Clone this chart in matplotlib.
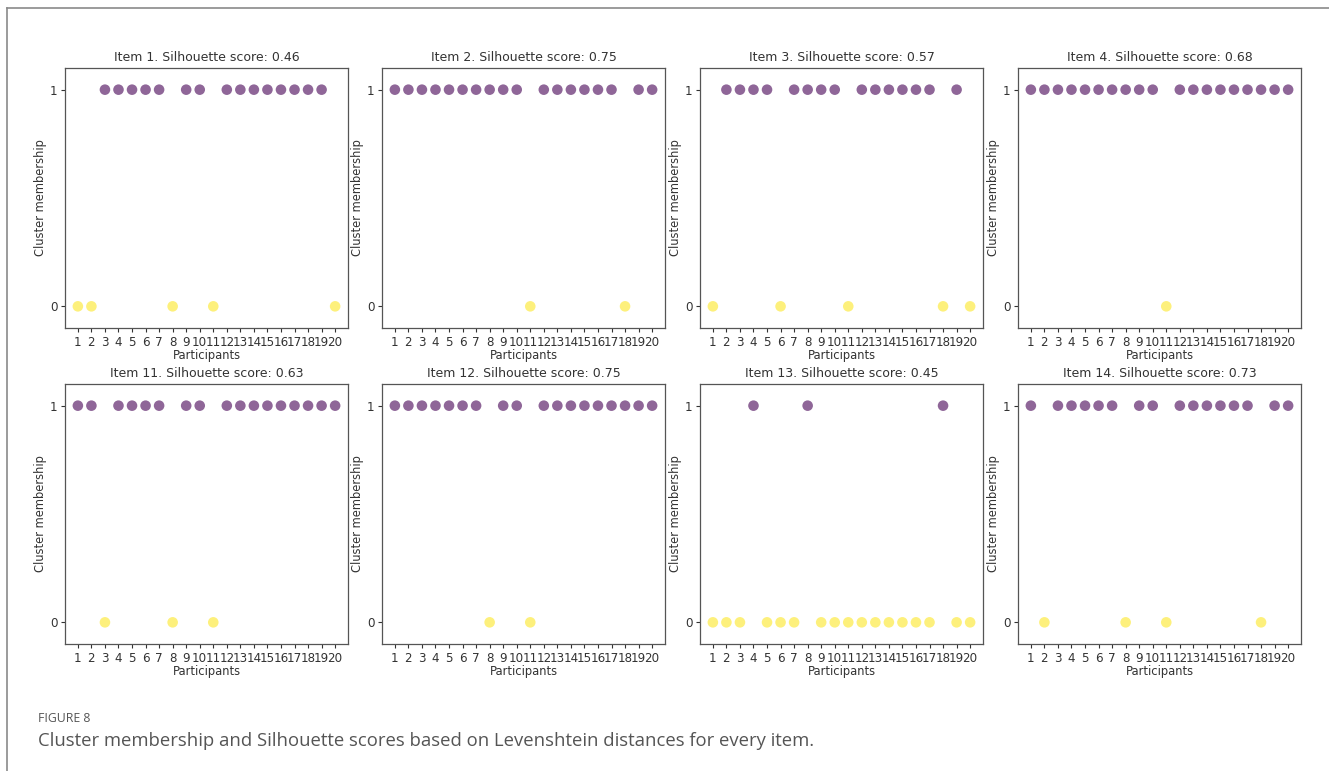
import matplotlib
matplotlib.use('Agg')
import matplotlib.pyplot as plt
from matplotlib.colors import ListedColormap
from matplotlib.lines import Line2D

# cluster label per participant (1..20) for each item
participants = list(range(1, 21))
items = [1, 2, 3, 4, 11, 12, 13, 14]
scores = [0.46, 0.75, 0.57, 0.68, 0.63, 0.75, 0.45, 0.73]

item1 = [0, 0, 1, 1, 1, 1, 1, 0, 1, 1, 0, 1, 1, 1, 1, 1, 1, 1, 1, 0]
item2 = [1, 1, 1, 1, 1, 1, 1, 1, 1, 1, 0, 1, 1, 1, 1, 1, 1, 0, 1, 1]
item3 = [0, 1, 1, 1, 1, 0, 1, 1, 1, 1, 0, 1, 1, 1, 1, 1, 1, 0, 1, 0]
item4 = [1, 1, 1, 1, 1, 1, 1, 1, 1, 1, 0, 1, 1, 1, 1, 1, 1, 1, 1, 1]
item11 = [1, 1, 0, 1, 1, 1, 1, 0, 1, 1, 0, 1, 1, 1, 1, 1, 1, 1, 1, 1]
item12 = [1, 1, 1, 1, 1, 1, 1, 0, 1, 1, 0, 1, 1, 1, 1, 1, 1, 1, 1, 1]
item13 = [0, 0, 0, 1, 0, 0, 0, 1, 0, 0, 0, 0, 0, 0, 0, 0, 0, 1, 0, 0]
item14 = [1, 0, 1, 1, 1, 1, 1, 0, 1, 1, 0, 1, 1, 1, 1, 1, 1, 0, 1, 1]
memberships = [item1, item2, item3, item4, item11, item12, item13, item14]

W, H = 1329, 771
fig = plt.figure(figsize=(W / 100, H / 100), dpi=100)

cmap = ListedColormap(['#fde725', '#440154'])
ink = '#333333'

col_left = [65, 382, 700, 1018]
row_top = [68, 384]
ax_w, ax_h = 283, 260

for i, (item, score, labels) in enumerate(zip(items, scores, memberships)):
    r, c = divmod(i, 4)
    x0 = col_left[c] / W
    y0 = 1 - (row_top[r] + ax_h) / H
    ax = fig.add_axes([x0, y0, ax_w / W, ax_h / H])
    ax.scatter(participants, labels, c=labels, cmap=cmap, vmin=0, vmax=1,
               s=58, alpha=0.6, linewidths=0)
    ax.set_ylim(-0.1, 1.1)
    ax.set_xticks(participants)
    ax.set_yticks([0, 1])
    ax.tick_params(labelsize=8.6, colors=ink, length=3, pad=2.5)
    ax.set_title(f"Item {item}. Silhouette score: {score:.2f}", fontsize=9.0,
                 color=ink, pad=5)
    ax.set_xlabel("Participants", fontsize=8.3, color=ink, labelpad=0)
    ax.set_ylabel("Cluster membership", fontsize=8.3, color=ink, labelpad=2)
    for sp in ax.spines.values():
        sp.set_color('#555555')
        sp.set_linewidth(0.9)

# outer frame (top and left edges)
fig.add_artist(Line2D([7 / W, 1], [1 - 8 / H, 1 - 8 / H], color='#8a8a8a', lw=1.2))
fig.add_artist(Line2D([7 / W, 7 / W], [0, 1 - 8 / H], color='#8a8a8a', lw=1.2))

fig.text(38 / W, 1 - 718 / H, "FIGURE 8", fontsize=8.8, color='#555555',
         family='Open Sans', va='center')
fig.text(38 / W, 1 - 741 / H,
         "Cluster membership and Silhouette scores based on Levenshtein distances for every item.",
         fontsize=13.3, color='#555555', family='Open Sans', va='center')

fig.savefig('out.png', dpi=100)
